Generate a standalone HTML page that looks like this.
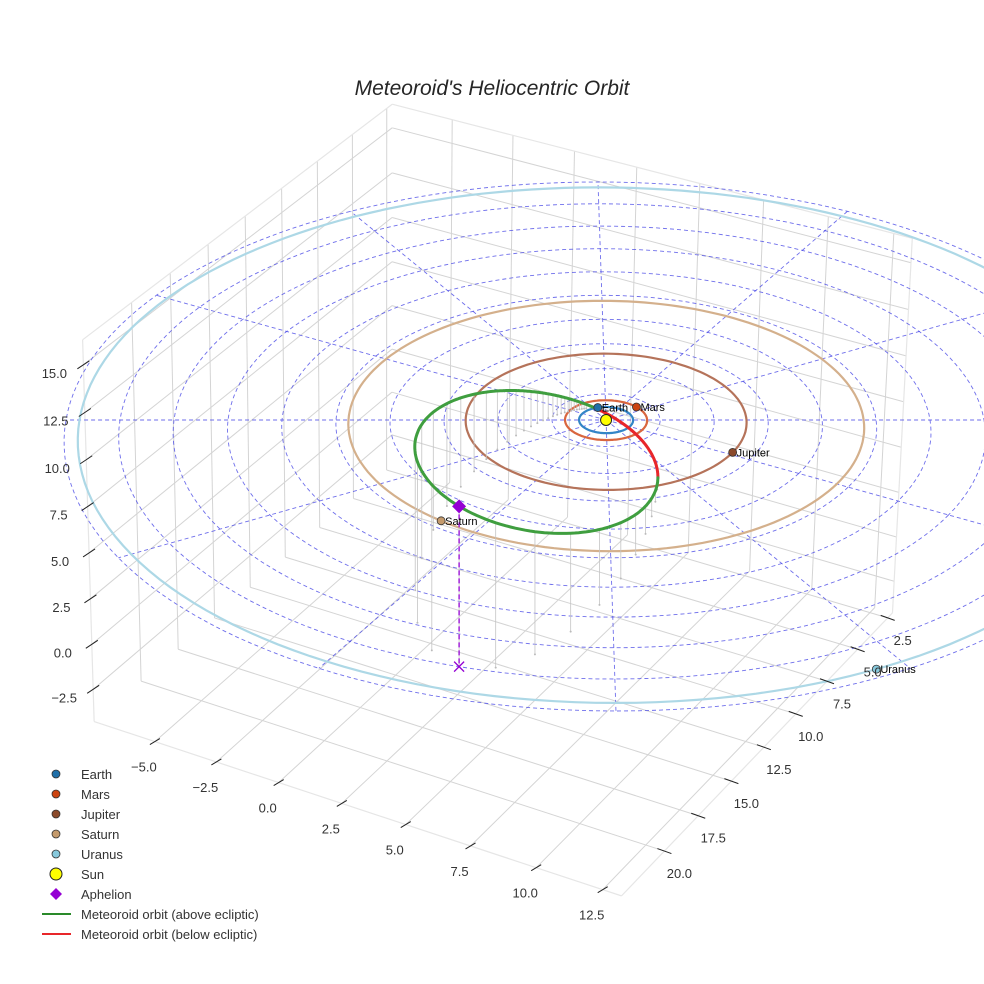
<!DOCTYPE html>
<html><head><meta charset="utf-8"><style>
html,body{margin:0;padding:0;background:#fff;}
svg{display:block;font-family:"Liberation Sans",sans-serif;}
</style></head><body>
<svg id="chart" width="984" height="984" viewBox="0 0 984 984" xmlns="http://www.w3.org/2000/svg">
<rect width="984" height="984" fill="#fff"/>
<text x="492" y="95" text-anchor="middle" font-size="21" font-style="italic" fill="#262626">Meteoroid's Heliocentric Orbit</text>
<g id="panes"></g>
<g id="ecl"></g>
<g id="orbits"></g>
<g id="drops"></g>
<g id="met"></g>
<g id="marks"></g>
<g id="ticks"></g>
<g id="legend"></g>
</svg>
<script>
// ---- data ----
const xTicks = [-5.0, -2.5, 0.0, 2.5, 5.0, 7.5, 10.0, 12.5];
const yTicks = [2.5, 5.0, 7.5, 10.0, 12.5, 15.0, 17.5, 20.0];
const zTicks = [-2.5, 0.0, 2.5, 5.0, 7.5, 10.0, 12.5, 15.0];
const xLimits = [-7.5, 13.2];
const yLimits = [2.1, 23.1];
const zLimits = [-4.3, 16.3];
const planetNames = ["Earth", "Mars", "Jupiter", "Saturn", "Uranus"];
const planetRadii = [1.0, 1.52, 5.2, 9.54, 19.5];
const planetAnglesDeg = [223, -71, -2, 99, 33];
const planetOrbitColors = ["#3385c6", "#d9663f", "#b5735a", "#d4b08c", "#add8e6"];
const planetMarkerColors = ["#1f6fa8", "#cc4411", "#8b4a2b", "#c49a6c", "#87c9dc"];
const gridRingRadii = [2, 4, 6, 8, 10, 12, 14, 16, 18, 20];
const gridSpokeAnglesDeg = [0, 30, 60, 90, 120, 150, 180, 210, 240, 270, 300, 330];
const meteorPerihelion = [0.85];
const meteorAphelion = [19.5];
const meteorInclinationDeg = [33];
const meteorNodeDeg = [37];
const meteorArgPeriDeg = [225];

// ---- generic solver ----
function solveLS(A,b){
  const n=A[0].length,N=[];
  for(let i=0;i<n;i++){N.push(new Array(n+1).fill(0));
    for(let j=0;j<n;j++){let s=0;for(let k=0;k<A.length;k++)s+=A[k][i]*A[k][j];N[i][j]=s;}
    let s=0;for(let k=0;k<A.length;k++)s+=A[k][i]*b[k];N[i][n]=s;}
  for(let c=0;c<n;c++){let m=c;for(let r=c+1;r<n;r++)if(Math.abs(N[r][c])>Math.abs(N[m][c]))m=r;
    [N[c],N[m]]=[N[m],N[c]];
    for(let r=0;r<n;r++){if(r===c)continue;const f=N[r][c]/N[c][c];for(let k=c;k<=n;k++)N[r][k]-=f*N[c][k];}}
  return N.map((row,i)=>row[n]/row[i]);
}
// box projection (3D DLT from box corners)
const boxCal = [
 [[-7.5,23.1,-4.3],[99,727]],[[13.2,23.1,-4.3],[618,895]],[[13.2,2.1,-4.3],[895,612]],
 [[-7.5,2.1,-4.3],[388,462]],
 [[-7.5,23.1,16.3],[81,335]],[[-7.5,2.1,16.3],[393,107]],[[13.2,2.1,16.3],[913,240]]
];
const PB=(function(){const A=[],b=[];
  boxCal.forEach(([[X,Y,Z],[u,v]])=>{A.push([X,Y,Z,1,0,0,0,0,-u*X,-u*Y,-u*Z]);b.push(u);
    A.push([0,0,0,0,X,Y,Z,1,-v*X,-v*Y,-v*Z]);b.push(v);});return solveLS(A,b);})();
function projB(X,Y,Z){const w=PB[8]*X+PB[9]*Y+PB[10]*Z+1;
  return [(PB[0]*X+PB[1]*Y+PB[2]*Z+PB[3])/w,(PB[4]*X+PB[5]*Y+PB[6]*Z+PB[7])/w];}
// ecliptic projection (plane homography + vertical z)
const eclCal = [[[0,0],[606,420]],[[-17.32,10],[66,420]],[[10,17.32],[616,711]],[[-10,-17.32],[598,182]],[[17.32,-10],[1146,420]]];
const PE=(function(){const A=[],b=[];
  eclCal.forEach(([[X,Y],[u,v]])=>{A.push([X,Y,1,0,0,0,-u*X,-u*Y]);b.push(u);
    A.push([0,0,0,X,Y,1,-v*X,-v*Y]);b.push(v);});return solveLS(A,b);})();
const zPx=19.5;
function proj(X,Y,Z){const w=PE[6]*X+PE[7]*Y+1;
  return [(PE[0]*X+PE[1]*Y+PE[2])/w,(PE[3]*X+PE[4]*Y+PE[5])/w - Z*zPx/w];}

const NS="http://www.w3.org/2000/svg";
function el(tag,attrs,parent){const e=document.createElementNS(NS,tag);for(const k in attrs)e.setAttribute(k,attrs[k]);parent.appendChild(e);return e;}
function pathD(pts){return pts.map((p,i)=>(i?"L":"M")+p[0].toFixed(1)+" "+p[1].toFixed(1)).join("");}
function segLine(p,q,attrs,parent,name){
  const e=el("line",Object.assign({x1:p[0],y1:p[1],x2:q[0],y2:q[1]},attrs),parent);
  
  
  return e;}
function boxLine(a,b,attrs,parent,name){return segLine(projB(...a),projB(...b),attrs,parent,name);}

// ---- panes & grid ----
const panes=document.getElementById("panes");
const [x0,x1]=xLimits,[y0,y1]=yLimits,[z0,z1]=zLimits;
const gs={stroke:"#d4d4d4","stroke-width":1};
xTicks.forEach(x=>{boxLine([x,y0,z0],[x,y1,z0],gs,panes,"floor-grid-x");boxLine([x,y0,z0],[x,y0,z1],gs,panes,"back-grid-x");});
yTicks.forEach(y=>{boxLine([x0,y,z0],[x1,y,z0],gs,panes,"floor-grid-y");boxLine([x0,y,z0],[x0,y,z1],gs,panes,"side-grid-y");});
zTicks.forEach(z=>{boxLine([x0,y0,z],[x0,y1,z],gs,panes,"side-grid-z");boxLine([x0,y0,z],[x1,y0,z],gs,panes,"back-grid-z");});
const es={stroke:"#e6e6e6","stroke-width":1.2};
[[[x0,y1,z0],[x0,y1,z1]],[[x0,y1,z1],[x0,y0,z1]],[[x0,y0,z1],[x1,y0,z1]],[[x1,y0,z1],[x1,y0,z0]],
 [[x0,y1,z0],[x1,y1,z0]],[[x1,y1,z0],[x1,y0,z0]]].forEach(([a,b])=>boxLine(a,b,es,panes,"pane-edge"));

// ---- ecliptic grid ----
const ecl=document.getElementById("ecl");
const ds={fill:"none",stroke:"#4a4ae6","stroke-width":0.9,"stroke-dasharray":"4 3","stroke-opacity":0.8};
gridRingRadii.forEach(r=>{const pts=[];for(let t=0;t<=360;t+=2){const a=t*Math.PI/180;pts.push(proj(r*Math.cos(a),r*Math.sin(a),0));}
  const e=el("path",Object.assign({d:pathD(pts)},ds),ecl);
  
  });
const rMax=gridRingRadii[gridRingRadii.length-1];
gridSpokeAnglesDeg.forEach(t=>{const a=t*Math.PI/180;
  segLine(proj(0,0,0),proj(rMax*Math.cos(a),rMax*Math.sin(a),0),ds,ecl,"ecliptic-spoke");});

// ---- planet orbits ----
const orbits=document.getElementById("orbits");
planetRadii.forEach((r,i)=>{const pts=[];for(let t=0;t<=360;t+=2){const a=t*Math.PI/180;pts.push(proj(r*Math.cos(a),r*Math.sin(a),0));}
  const e=el("path",{d:pathD(pts),fill:"none",stroke:planetOrbitColors[i],"stroke-width":2.2},orbits);
  
  });

// ---- meteoroid orbit ----
const q=meteorPerihelion[0],Q=meteorAphelion[0];
const ecc=(Q-q)/(Q+q),pSemi=q*(1+ecc);
const inc=meteorInclinationDeg[0]*Math.PI/180,Om=meteorNodeDeg[0]*Math.PI/180,w=meteorArgPeriDeg[0]*Math.PI/180;
function met(nuDeg){const nu=nuDeg*Math.PI/180,r=pSemi/(1+ecc*Math.cos(nu)),u=w+nu;
  return [r*(Math.cos(Om)*Math.cos(u)-Math.sin(Om)*Math.sin(u)*Math.cos(inc)),
          r*(Math.sin(Om)*Math.cos(u)+Math.cos(Om)*Math.sin(u)*Math.cos(inc)),
          r*Math.sin(u)*Math.sin(inc)];}
const metG=document.getElementById("met"),drops=document.getElementById("drops");
let seg=[],segAbove=null;
function flush(){if(seg.length>1){const e=el("path",{d:pathD(seg),fill:"none",stroke:segAbove?"#3f9e3f":"#e8262a","stroke-width":3,"stroke-linecap":"round"},metG);
  
  }}
for(let t=0;t<=360;t+=0.5){const p=met(t),above=p[2]>=0;
  if(segAbove===null)segAbove=above;
  if(above!==segAbove){seg.push(proj(...p));flush();seg=[seg[seg.length-1]];segAbove=above;}
  else seg.push(proj(...p));}
flush();
for(let t=0;t<360;t+=4){const p=met(t);if(p[2]<=0.2)continue;
  segLine(proj(...p),proj(p[0],p[1],0),{stroke:"#c4c4c4","stroke-width":0.8},drops,"drop-line");
  const b=proj(p[0],p[1],0);const d=el("circle",{cx:b[0],cy:b[1],r:1,fill:"#bbb"},drops);
  
  }

// ---- markers ----
const marks=document.getElementById("marks");
const ap=met(180),apS=proj(...ap),apF=proj(ap[0],ap[1],0);
let e=el("line",{x1:apS[0],y1:apS[1],x2:apF[0],y2:apF[1],stroke:"#9400d3","stroke-width":1.3,"stroke-dasharray":"5 3"},marks);


e=el("path",{d:`M${apF[0]-5} ${apF[1]-5}L${apF[0]+5} ${apF[1]+5}M${apF[0]-5} ${apF[1]+5}L${apF[0]+5} ${apF[1]-5}`,stroke:"#9400d3","stroke-width":1.3},marks);


e=el("path",{d:`M${apS[0]} ${apS[1]-7}L${apS[0]+7} ${apS[1]}L${apS[0]} ${apS[1]+7}L${apS[0]-7} ${apS[1]}Z`,fill:"#9400d3"},marks);


const sun=proj(0,0,0);
e=el("circle",{cx:sun[0],cy:sun[1],r:5.5,fill:"#ffff00",stroke:"#222","stroke-width":1},marks);


planetNames.forEach((n,i)=>{const a=planetAnglesDeg[i]*Math.PI/180,r=planetRadii[i];
  const s=proj(r*Math.cos(a),r*Math.sin(a),0);
  const c=el("circle",{cx:s[0],cy:s[1],r:4,fill:planetMarkerColors[i],stroke:"#333","stroke-width":0.8},marks);
  
  
  const t=el("text",{x:s[0]+4,y:s[1]+4,"font-size":11,fill:"#000"},marks);t.textContent=n;
  
  });

// ---- ticks ----
const ticks=document.getElementById("ticks");
function tick(pt,dx,dy,lx,ly,label,name){
  const e=el("line",{x1:pt[0]-dx,y1:pt[1]-dy,x2:pt[0]+dx,y2:pt[1]+dy,stroke:"#222","stroke-width":1},ticks);
  
  
  const t=el("text",{x:pt[0]+lx,y:pt[1]+ly,"font-size":13,fill:"#333","text-anchor":"middle"},ticks);
  t.textContent=label.toFixed(1).replace("-","\u2212");
  
  }
xTicks.forEach(x=>tick(projB(x,y1,z0),-5,3,-11,30,x,"x-axis"));
yTicks.forEach(y=>tick(projB(x1,y,z0),7,2.5,15,27,y,"y-axis"));
zTicks.forEach(z=>tick(projB(x0,y1,z),-6,4,-29,13,z,"z-axis"));

// ---- legend ----
const lg=document.getElementById("legend");
const legendLabels=["Earth","Mars","Jupiter","Saturn","Uranus","Sun","Aphelion","Meteoroid orbit (above ecliptic)","Meteoroid orbit (below ecliptic)"];
legendLabels.forEach((lab,i)=>{const y=774+i*20;
  let m;
  if(i<5){m=el("circle",{cx:56,cy:y,r:4,fill:planetMarkerColors[i],stroke:"#333","stroke-width":0.8},lg);}
  else if(i===5){m=el("circle",{cx:56,cy:y,r:6,fill:"#ffff00",stroke:"#222","stroke-width":1},lg);}
  else if(i===6){m=el("path",{d:`M56 ${y-6}L62 ${y}L56 ${y+6}L50 ${y}Z`,fill:"#9400d3"},lg);}
  else {m=el("line",{x1:42,y1:y,x2:71,y2:y,stroke:i===7?"#2a8a2a":"#e8262a","stroke-width":2},lg);}
  
  
  const t=el("text",{x:81,y:y+5,"font-size":13,fill:"#333"},lg);t.textContent=lab;
  
  });
</script>
</body></html>
